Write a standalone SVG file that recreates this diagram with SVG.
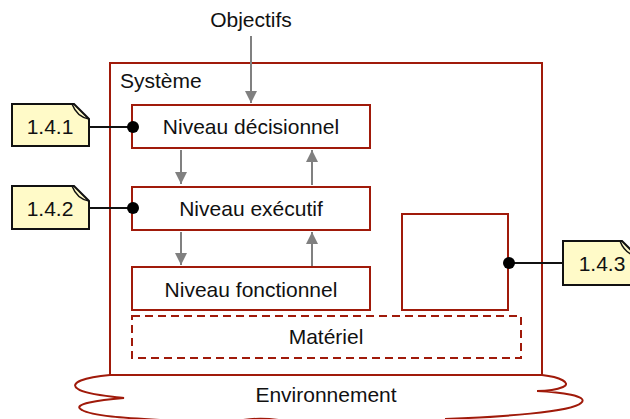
<svg xmlns="http://www.w3.org/2000/svg" width="630" height="419" viewBox="0 0 630 419">
<style>
text{font-family:"Liberation Sans",Arial,sans-serif;font-size:21px;fill:#111}
.box{fill:#fff;stroke:#a01a0a;stroke-width:2}
.arr{stroke:#808080;stroke-width:2;fill:none;marker-end:url(#ah)}
.note{fill:#fffac8;stroke:#111;stroke-width:2}
.link{stroke:#111;stroke-width:2}
</style>
<defs>
<marker id="ah" viewBox="0 0 12 12" refX="12" refY="6" markerWidth="12" markerHeight="12" markerUnits="userSpaceOnUse" orient="auto">
<path d="M0,0 L12,6 L0,12 z" fill="#808080"/>
</marker>
</defs>
<g id="environnement">
<path d="M110,375 C85,377 68,383 78,389 C86,395 110,396 124,398 C100,400 70,404 82,410 C92,416 125,418 160,420 M240,420.5 Q260,417 282,420.5 M445,419 C500,417 572,412 581,403 C590,396 560,392 537,391 C545,391 556,390 563,387 C572,383 560,377 542,375" fill="none" stroke="#a01a0a" stroke-width="2"/>
<text x="326" y="402" text-anchor="middle">Environnement</text>
</g>
<g id="systeme">
<rect class="box" x="110" y="63" width="432" height="312"/>
<text x="120" y="88">Système</text>
</g>
<g id="objectifs">
<text x="251" y="27" text-anchor="middle">Objectifs</text>
</g>
<g id="decisionnel">
<rect class="box" x="132" y="105" width="238" height="43"/>
<text x="251" y="134" text-anchor="middle">Niveau décisionnel</text>
</g>
<g id="executif">
<rect class="box" x="132" y="187" width="238" height="43"/>
<text x="251" y="216" text-anchor="middle">Niveau exécutif</text>
</g>
<g id="fonctionnel">
<rect class="box" x="132" y="267" width="238" height="43"/>
<text x="251" y="297" text-anchor="middle">Niveau fonctionnel</text>
</g>
<g id="boite">
<rect class="box" x="402" y="214" width="106" height="96"/>
</g>
<g id="materiel">
<rect x="132" y="316" width="389" height="42" fill="none" stroke="#a01a0a" stroke-width="2" stroke-dasharray="8,5"/>
<text x="326" y="344" text-anchor="middle">Matériel</text>
</g>
<g id="note141">
<path class="note" d="M12,104 H74 L89,119 V146 H12 Z"/>
<path d="M72,104 Q77,117 89,119" fill="none" stroke="#111" stroke-width="1.5"/>
<text x="50" y="134" text-anchor="middle">1.4.1</text>
</g>
<g id="note142">
<path class="note" d="M12,186 H74 L89,201 V229 H12 Z"/>
<path d="M72,186 Q77,199 89,201" fill="none" stroke="#111" stroke-width="1.5"/>
<text x="50" y="216" text-anchor="middle">1.4.2</text>
</g>
<g id="note143">
<path class="note" d="M563,241 H622 L637,256 V285 H563 Z"/>
<path d="M620,241 Q625,254 637,256" fill="none" stroke="#111" stroke-width="1.5"/>
<text x="602" y="271" text-anchor="middle">1.4.3</text>
</g>
<g id="connecteurs">
<line class="arr" x1="251" y1="36" x2="251" y2="103"/>
<line class="arr" x1="181" y1="150" x2="181" y2="184"/>
<line class="arr" x1="312" y1="185" x2="312" y2="150"/>
<line class="arr" x1="181" y1="232" x2="181" y2="265"/>
<line class="arr" x1="312" y1="266" x2="312" y2="232"/>
<line class="link" x1="89" y1="127" x2="133" y2="127"/>
<circle cx="133" cy="127" r="6" fill="#000"/>
<line class="link" x1="89" y1="208" x2="133" y2="208"/>
<circle cx="133" cy="208" r="6" fill="#000"/>
<line class="link" x1="509" y1="263" x2="563" y2="263"/>
<circle cx="509" cy="263" r="6" fill="#000"/>
</g>
</svg>
